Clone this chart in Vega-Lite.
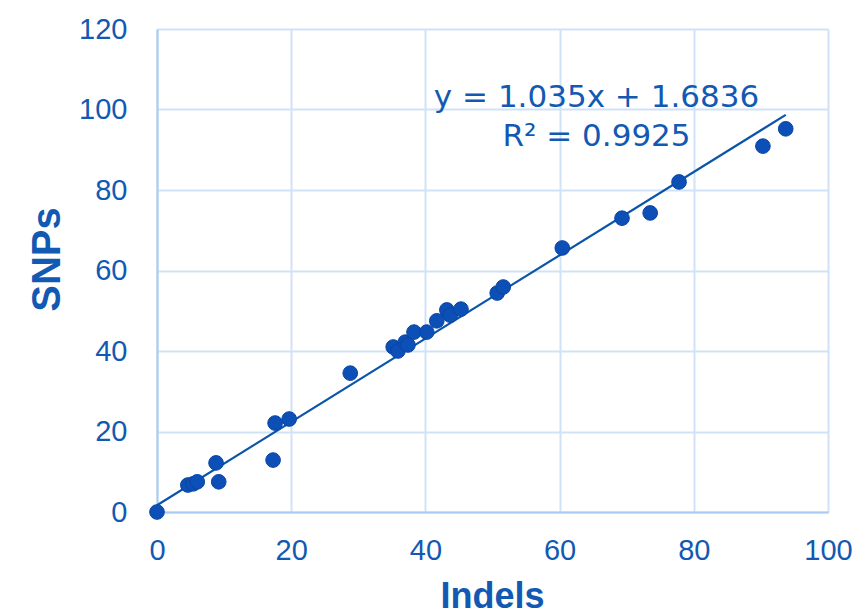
{
  "$schema": "https://vega.github.io/schema/vega-lite/v6.json",
  "width": 671,
  "height": 483,
  "autosize": "none",
  "padding": {"left": 157, "top": 29, "right": 24, "bottom": 99},
  "background": "white",
  "config": {"view": {"stroke": null}, "font": "Liberation Sans"},
  "datasets": {
    "points": [
      {"indels": 0, "snps": 0},
      {"indels": 4.6, "snps": 6.7},
      {"indels": 5.4, "snps": 7.0},
      {"indels": 6.0, "snps": 7.5},
      {"indels": 8.8, "snps": 12.2},
      {"indels": 9.2, "snps": 7.5},
      {"indels": 17.3, "snps": 12.9},
      {"indels": 17.6, "snps": 22.1},
      {"indels": 19.7, "snps": 23.1},
      {"indels": 28.8, "snps": 34.5},
      {"indels": 35.2, "snps": 41.0},
      {"indels": 35.9, "snps": 40.0},
      {"indels": 37.0, "snps": 42.2},
      {"indels": 37.4, "snps": 41.5},
      {"indels": 38.3, "snps": 44.7},
      {"indels": 40.2, "snps": 44.7},
      {"indels": 41.7, "snps": 47.5},
      {"indels": 43.2, "snps": 50.2},
      {"indels": 43.7, "snps": 48.9},
      {"indels": 45.3, "snps": 50.4},
      {"indels": 50.7, "snps": 54.4},
      {"indels": 51.6, "snps": 55.9},
      {"indels": 60.4, "snps": 65.6},
      {"indels": 69.3, "snps": 73.0},
      {"indels": 73.5, "snps": 74.3},
      {"indels": 77.8, "snps": 82.0},
      {"indels": 90.3, "snps": 90.9},
      {"indels": 93.7, "snps": 95.2}
    ],
    "trend": [
      {"indels": 0, "snps": 1.6836},
      {"indels": 93.7, "snps": 98.66}
    ],
    "note": [{"label": "equation"}]
  },
  "layer": [
    {
      "data": {"name": "trend"},
      "mark": {"type": "line", "color": "#0A55AA", "strokeWidth": 2.2},
      "encoding": {
        "x": {
          "field": "indels", "type": "quantitative",
          "scale": {"domain": [0, 100], "nice": false, "zero": true},
          "axis": {
            "values": [0, 20, 40, 60, 80, 100],
            "grid": true, "gridColor": "#CFE2F8", "gridWidth": 2,
            "domainColor": "#A9CBF3", "domainWidth": 2,
            "ticks": false, "labelFlush": false, "labelOverlap": false,
            "labelFontSize": 29, "labelColor": "#1259B3", "labelPadding": 24,
            "labelFont": "Liberation Sans",
            "title": "Indels", "titleFont": "Liberation Sans", "titleFontSize": 36,
            "titleFontWeight": "bold", "titleColor": "#1259B3",
            "titleX": 335, "titleY": 84, "titleBaseline": "middle", "titleAlign": "center"
          }
        },
        "y": {
          "field": "snps", "type": "quantitative",
          "scale": {"domain": [0, 120], "nice": false, "zero": true},
          "axis": {
            "values": [0, 20, 40, 60, 80, 100, 120],
            "grid": true, "gridColor": "#CFE2F8", "gridWidth": 2,
            "domainColor": "#A9CBF3", "domainWidth": 2,
            "ticks": false, "labelFlush": false, "labelOverlap": false,
            "labelFontSize": 29, "labelColor": "#1259B3", "labelPadding": 30,
            "labelFont": "Liberation Sans",
            "title": "SNPs", "titleFont": "Liberation Sans", "titleFontSize": 40,
            "titleFontWeight": "bold", "titleColor": "#1259B3",
            "titleAngle": -90, "titleX": -110, "titleY": 230,
            "titleBaseline": "middle", "titleAlign": "center"
          }
        }
      }
    },
    {
      "data": {"name": "points"},
      "mark": {"type": "point", "shape": "circle", "filled": true, "size": 215,
               "color": "#0C4FB6", "opacity": 1, "stroke": "#0A45A3", "strokeWidth": 1},
      "encoding": {
        "x": {"field": "indels", "type": "quantitative"},
        "y": {"field": "snps", "type": "quantitative"}
      }
    },
    {
      "data": {"name": "note"},
      "mark": {"type": "text", "text": ["y = 1.035x + 1.6836", "R² = 0.9925"],
               "font": "DejaVu Sans", "fontSize": 31, "color": "#1259B3",
               "align": "center", "baseline": "alphabetic", "lineHeight": 39.5},
      "encoding": {
        "x": {"datum": 65.5, "type": "quantitative"},
        "y": {"datum": 100.7, "type": "quantitative"}
      }
    }
  ]
}
